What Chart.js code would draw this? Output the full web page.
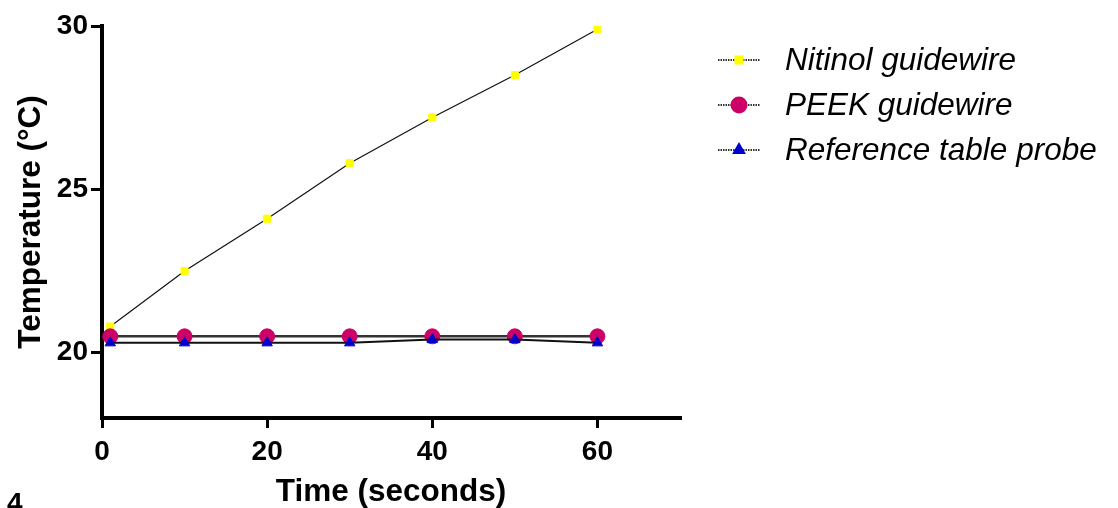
<!DOCTYPE html>
<html><head><meta charset="utf-8">
<script src="https://cdn.jsdelivr.net/npm/chart.js@4.4.1/dist/chart.umd.min.js"></script>
<style>
html,body{margin:0;padding:0;background:#fff;overflow:hidden;}
#wrap{position:relative;width:1118px;height:508px;overflow:hidden;}
#fig{position:absolute;left:7px;top:489px;font:bold 28px "Liberation Sans",Arial,sans-serif;line-height:28px;color:#000;}
</style></head>
<body>
<div id="wrap"><canvas id="c" width="1118" height="508"></canvas><div id="fig">4</div></div>
<script>
const times = [1, 10, 20, 30, 40, 50, 60];
const nitinol = [20.8, 22.5, 24.1, 25.8, 27.2, 28.5, 29.9];
const peek = [20.5, 20.5, 20.5, 20.5, 20.5, 20.5, 20.5];
const reference = [20.3, 20.3, 20.3, 20.3, 20.4, 20.4, 20.3];
const seriesNames = ['Nitinol guidewire', 'PEEK guidewire', 'Reference table probe'];
const xTicks = [0, 20, 40, 60];
const yTicks = [20, 25, 30];

const pts = (arr) => times.map((t, i) => ({x: t, y: arr[i]}));
const FONT = '"Liberation Sans", Arial, sans-serif';

const legendPlugin = {
  id: 'customLegend',
  afterDraw(chart) {
    const ctx = chart.ctx;
    const ys = [60, 105, 150];
    chart.data.datasets.forEach((ds, i) => {
      const y = ys[i];
      ctx.save();
      ctx.strokeStyle = '#333';
      ctx.lineWidth = 2;
      ctx.setLineDash([1.5, 1]);
      ctx.beginPath(); ctx.moveTo(718, y); ctx.lineTo(760, y); ctx.stroke();
      ctx.setLineDash([]);
      ctx.fillStyle = ds.pointBackgroundColor;
      ctx.strokeStyle = ds.pointBackgroundColor;
      Chart.helpers.drawPoint(ctx, {pointStyle: ds.pointStyle, rotation: 0, radius: ds.pointRadius, borderWidth: 1}, 739, y);
      ctx.fillStyle = '#000';
      ctx.font = 'italic 31.5px ' + FONT;
      ctx.textBaseline = 'middle';
      ctx.textAlign = 'left';
      ctx.fillText(ds.label, 785, y + 1);
      ctx.restore();
    });
  }
};

new Chart(document.getElementById('c'), {
  type: 'line',
  data: {
    datasets: [
      {label: seriesNames[0], data: pts(nitinol), order: 3, borderColor: '#111', borderWidth: 1.2,
       pointStyle: 'rect', pointRadius: 5, pointBackgroundColor: '#ffff00', pointBorderColor: '#ffff00', pointBorderWidth: 1},
      {label: seriesNames[1], data: pts(peek), order: 2, borderColor: '#333', borderWidth: 2.5,
       pointStyle: 'circle', pointRadius: 7.5, pointBackgroundColor: '#cc0066', pointBorderColor: '#cc0066', pointBorderWidth: 1},
      {label: seriesNames[2], data: pts(reference), order: 1, borderColor: '#111', borderWidth: 2,
       pointStyle: 'triangle', pointRadius: 6, pointBackgroundColor: '#0000cc', pointBorderColor: '#0000cc', pointBorderWidth: 1}
    ]
  },
  options: {
    responsive: false,
    animation: false,
    layout: {padding: {left: 0, top: 26, right: 438, bottom: 0}},
    plugins: {legend: {display: false}, tooltip: {enabled: false}},
    elements: {line: {tension: 0}},
    scales: {
      x: {
        type: 'linear', min: 0, max: 70,
        afterBuildTicks: (s) => { s.ticks = xTicks.map(v => ({value: v})); },
        afterFit: (s) => { s.height = 90; },
        grid: {drawOnChartArea: false, drawTicks: true, tickLength: 10, color: '#000', lineWidth: 3},
        border: {display: true, color: '#000', width: 4},
        ticks: {color: '#000', font: {family: FONT, size: 28, weight: 'bold'}, padding: 7, maxRotation: 0},
        title: {display: true, text: 'Time (seconds)', color: '#000', font: {family: FONT, size: 31.5, weight: 'bold', lineHeight: 1.0}, padding: {top: 0, bottom: 0}}
      },
      y: {
        type: 'linear', min: 18, max: 30,
        afterBuildTicks: (s) => { s.ticks = yTicks.map(v => ({value: v})); },
        afterFit: (s) => { s.width = 102; },
        grid: {drawOnChartArea: false, drawTicks: true, tickLength: 11, color: '#000', lineWidth: 3},
        border: {display: true, color: '#000', width: 4},
        ticks: {color: '#000', font: {family: FONT, size: 28, weight: 'bold'}, padding: 3},
        title: {display: true, text: 'Temperature (°C)', color: '#000', font: {family: FONT, size: 31.5, weight: 'bold'}, padding: {top: 12, bottom: 0}}
      }
    }
  },
  plugins: [legendPlugin]
});
</script>
</body></html>
